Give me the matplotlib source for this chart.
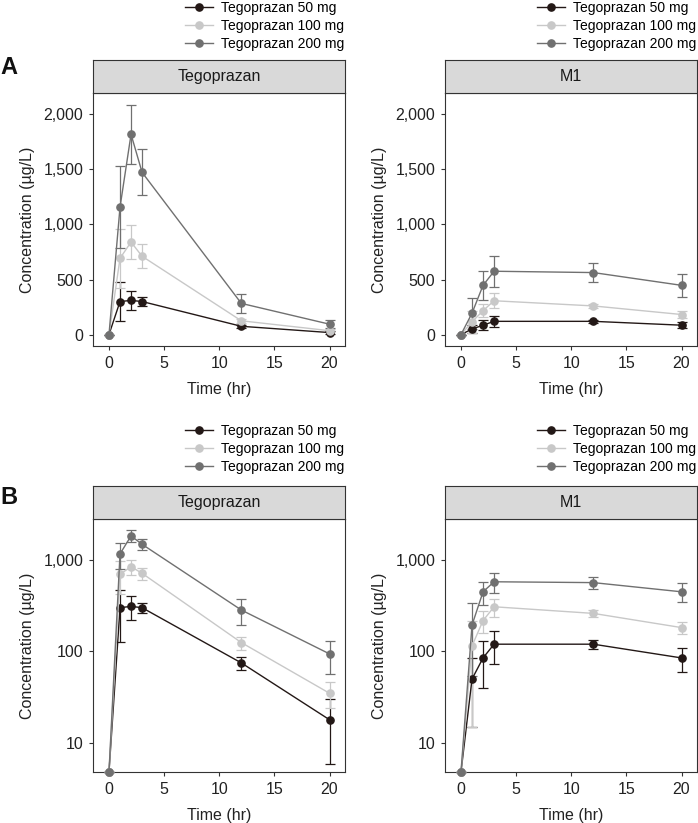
import numpy as np
import matplotlib
matplotlib.use("Agg")
import matplotlib.pyplot as plt
from matplotlib.ticker import FixedLocator, FuncFormatter, NullLocator

plt.rcParams['font.family'] = ['Liberation Sans', 'DejaVu Sans']

# ---------------- data ----------------
times = [0, 1, 2, 3, 12, 20]
doses = ["Tegoprazan 50 mg", "Tegoprazan 100 mg", "Tegoprazan 200 mg"]
colors = ["#231816", "#c8c8c8", "#707070"]

# Tegoprazan (parent) mean and SD
tego50_mean = [0, 300, 310, 300, 75, 18]
tego50_sd = [0, 173, 90, 40, 13, 12]
tego100_mean = [0, 693, 840, 711, 125, 35]
tego100_sd = [0, 270, 158, 107, 20, 11]
tego200_mean = [0, 1157, 1819, 1473, 283, 94]
tego200_sd = [0, 372, 268, 210, 88, 37]

# M1 metabolite mean and SD
m1_50_mean = [0, 50, 85, 120, 120, 85]
m1_50_sd = [0, 35, 45, 47, 13, 25]
m1_100_mean = [0, 115, 217, 307, 260, 182]
m1_100_sd = [0, 100, 57, 70, 20, 28]
m1_200_mean = [0, 194, 447, 575, 563, 447]
m1_200_sd = [0, 140, 130, 140, 88, 105]

panel_titles = ["Tegoprazan", "M1"]
x_ticks = [0, 5, 10, 15, 20]
lin_ticks = [0, 500, 1000, 1500, 2000]
log_ticks = [10, 100, 1000]

series = {
    "Tegoprazan": [(tego50_mean, tego50_sd), (tego100_mean, tego100_sd), (tego200_mean, tego200_sd)],
    "M1": [(m1_50_mean, m1_50_sd), (m1_100_mean, m1_100_sd), (m1_200_mean, m1_200_sd)],
}

# ---------------- layout ----------------
W, H = 698, 823
fig = plt.figure(figsize=(W / 100, H / 100), dpi=100)


def rect(l, t, r, b):
    return [l / W, 1 - b / H, (r - l) / W, (b - t) / H]


cols_x = [(93, 345), (445, 697)]
rows_y = [(60, 93, 346), (486, 519, 772)]  # strip top, plot top, plot bottom
legend_x = [185, 537]
legend_top = [1, 424]
panel_letters = [("A", 67), ("B", 498)]

edge = "#333333"
comma = FuncFormatter(lambda v, p: f"{v:,.0f}")

for r, (st, pt, pb) in enumerate(rows_y):
    log = (r == 1)
    ylim = (4.85, 2780) if log else (-104, 2194)
    for c, (xl, xr) in enumerate(cols_x):
        title = panel_titles[c]
        ax = fig.add_axes(rect(xl, pt, xr, pb))
        if log:
            ax.set_yscale("log")
        handles = []
        for (mean, sd), col, lab in zip(series[title], colors, doses):
            m = np.array(mean, float)
            s = np.array(sd, float)
            if log:
                m = np.where(m <= 0, ylim[0], m)
            eb = ax.errorbar(times, m, yerr=s, color=col, lw=1.0, marker="o",
                             markersize=5.2, capsize=3.6, capthick=0.9,
                             elinewidth=0.9, label=lab, clip_on=False, zorder=3)
            handles.append(eb)
        ax.set_xlim(-1.45, 21.4)
        ax.set_ylim(*ylim)
        ax.xaxis.set_major_locator(FixedLocator(x_ticks))
        if log:
            ax.yaxis.set_major_locator(FixedLocator(log_ticks))
            ax.yaxis.set_minor_locator(NullLocator())
        else:
            ax.yaxis.set_major_locator(FixedLocator(lin_ticks))
        ax.yaxis.set_major_formatter(comma)
        ax.tick_params(axis="both", labelsize=11.5, length=3, width=0.8,
                       color=edge, labelcolor="#222222", pad=4)
        for sp in ax.spines.values():
            sp.set_color(edge)
            sp.set_linewidth(0.8)
        ax.set_xlabel("Time (hr)", fontsize=11.5, color="#222222", labelpad=8)
        ax.set_ylabel("Concentration (µg/L)", fontsize=11.5, color="#222222", labelpad=6)

        # strip
        sax = fig.add_axes(rect(xl, st, xr, pt))
        sax.set_facecolor("#d9d9d9")
        sax.set_xticks([])
        sax.set_yticks([])
        for sp in sax.spines.values():
            sp.set_color(edge)
            sp.set_linewidth(0.8)
        sax.text(0.5, 0.5, title, ha="center", va="center", fontsize=11.5,
                 color="#1a1a1a", transform=sax.transAxes)

        # legend
        leg_handles = [h.lines[0] for h in handles]
        fig.legend(leg_handles, doses, loc="upper left",
                   bbox_to_anchor=(legend_x[c] / W, 1 - legend_top[r] / H),
                   frameon=False, fontsize=10, borderpad=0, borderaxespad=0,
                   handlelength=2.0, handletextpad=0.6, labelspacing=0.3)

    letter, yc = panel_letters[r]
    fig.text(0.5 / W, 1 - yc / H, letter, fontsize=17, fontweight="bold",
             ha="left", va="center", color="#111111")

fig.savefig("out.png", dpi=100)
